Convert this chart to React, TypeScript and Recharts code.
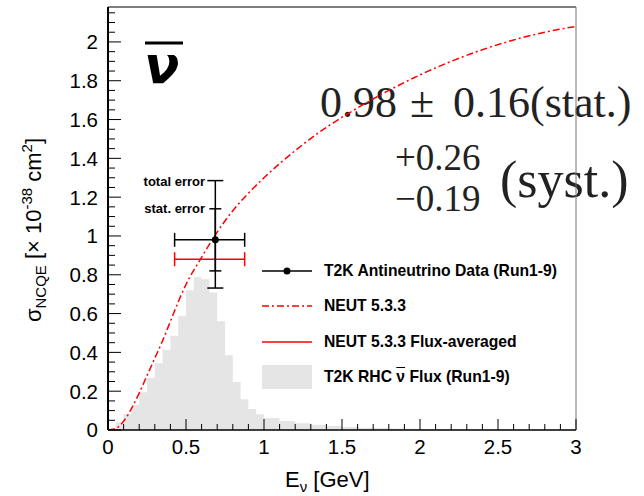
import React from 'react';
import { ComposedChart, Area, Line, Scatter, ErrorBar, XAxis, YAxis, Legend } from 'recharts';

// ---------- data ----------
const FLUX_BIN_EDGES = [
  0, 0.05, 0.1, 0.15, 0.2, 0.25, 0.3, 0.35, 0.4, 0.45, 0.5, 0.55, 0.6, 0.65, 0.7, 0.75, 0.8, 0.85, 0.9, 0.95,
  1.0, 1.1, 1.2, 1.3, 1.4, 1.5, 1.6, 1.7, 1.8, 1.9, 2.0, 2.2, 2.4, 2.6, 2.8, 3.0,
];
const FLUX_VALUES = [
  0.008, 0.04, 0.082, 0.129, 0.194, 0.268, 0.344, 0.414, 0.486, 0.588, 0.72, 0.787, 0.777, 0.708, 0.56, 0.385,
  0.247, 0.158, 0.108, 0.081, 0.062, 0.046, 0.035, 0.027, 0.021, 0.016, 0.012, 0.01, 0.008, 0.006, 0.005, 0.004,
  0.003, 0.002, 0.002,
];

const NEUT_ENERGY = [
  0, 0.05, 0.1, 0.15, 0.2, 0.25, 0.3, 0.35, 0.4, 0.45, 0.5, 0.6, 0.7, 0.8, 0.9, 1.0, 1.2, 1.4, 1.6, 1.8, 2.0, 2.2,
  2.4, 2.6, 2.8, 3.0,
];
const NEUT_XSEC = [
  0, 0.008, 0.045, 0.11, 0.19, 0.28, 0.37, 0.46, 0.56, 0.66, 0.75, 0.89, 1.02, 1.13, 1.22, 1.3, 1.44, 1.56, 1.66,
  1.75, 1.83, 1.9, 1.96, 2.01, 2.05, 2.08,
];

const DATA_ENERGY = 0.688;
const DATA_XSEC = 0.98;
const DATA_STAT = 0.16;
const DATA_SYST_UP = 0.26;
const DATA_SYST_DOWN = 0.19;
const FLUX_E_LOW = 0.427;
const FLUX_E_HIGH = 0.876;
const NEUT_FLUX_AVG = 0.88;
const NEUT_FLUX_AVG_E = 0.6515;

const X_MAJOR_TICKS = [0, 0.5, 1, 1.5, 2, 2.5, 3];
const X_TICK_LABELS = ['0', '0.5', '1', '1.5', '2', '2.5', '3'];
const Y_MAJOR_TICKS = [0, 0.2, 0.4, 0.6, 0.8, 1, 1.2, 1.4, 1.6, 1.8, 2];
const Y_TICK_LABELS = ['0', '0.2', '0.4', '0.6', '0.8', '1', '1.2', '1.4', '1.6', '1.8', '2'];

const LEGEND_LABELS = [
  'T2K Antineutrino Data (Run1-9)',
  'NEUT 5.3.3',
  'NEUT 5.3.3 Flux-averaged',
  'T2K RHC ν Flux (Run1-9)',
];

// ---------- derived ----------
const fluxData = FLUX_BIN_EDGES.map((x, i) => ({ x, flux: FLUX_VALUES[Math.min(i, FLUX_VALUES.length - 1)] }));
const neutData = NEUT_ENERGY.map((x, i) => ({ x, xsec: NEUT_XSEC[i] }));
const totDown = Math.sqrt(DATA_STAT * DATA_STAT + DATA_SYST_DOWN * DATA_SYST_DOWN);
const totUp = Math.sqrt(DATA_STAT * DATA_STAT + DATA_SYST_UP * DATA_SYST_UP);
const pointData = [
  {
    x: DATA_ENERGY,
    y: DATA_XSEC,
    stat: DATA_STAT,
    tot: [totDown, totUp],
    ex: [DATA_ENERGY - FLUX_E_LOW, FLUX_E_HIGH - DATA_ENERGY],
  },
];
const avgData = [
  { x: NEUT_FLUX_AVG_E, y: NEUT_FLUX_AVG, ex: [NEUT_FLUX_AVG_E - FLUX_E_LOW, FLUX_E_HIGH - NEUT_FLUX_AVG_E] },
];

// tick positions (minor + major)
const xTickList: number[] = [];
for (let i = 0; i <= 30; i++) xTickList.push(i / 10);
const yTickList: number[] = [];
for (let i = 0; i <= 43; i++) yTickList.push(i / 20);

const SANS = "'Liberation Sans', Arial, Helvetica, sans-serif";
const SERIF = "'Liberation Serif', 'Times New Roman', serif";

const near = (a: number, b: number) => Math.abs(a - b) < 1e-6;

const XTick = (props: any) => {
  const { x, y, payload } = props;
  const idx = X_MAJOR_TICKS.findIndex((m) => near(m, payload.value));
  const major = idx >= 0;
  return (
    <g>
      <line x1={x} x2={x} y1={y} y2={y - (major ? 11 : 6)} stroke="#000" strokeWidth={1} />
      {major && (
        <text x={x} y={y + 24} textAnchor="middle" fontFamily={SANS} fontSize={20.5} fill="#000">
          {X_TICK_LABELS[idx]}
        </text>
      )}
    </g>
  );
};

const YTick = (props: any) => {
  const { x, y, payload } = props;
  const idx = Y_MAJOR_TICKS.findIndex((m) => near(m, payload.value));
  const major = idx >= 0;
  return (
    <g>
      <line x1={x} x2={x + (major ? 13 : 7)} y1={y} y2={y} stroke="#000" strokeWidth={1} />
      {major && (
        <text x={x - 10} y={y} dy="0.36em" textAnchor="end" fontFamily={SANS} fontSize={20.5} fill="#000">
          {Y_TICK_LABELS[idx]}
        </text>
      )}
    </g>
  );
};

const renderLegend = () => {
  const symbols = [
    <g>
      <line x1={0} x2={50} y1={12} y2={12} stroke="#000" strokeWidth={1.5} />
      <circle cx={25} cy={12} r={3.5} fill="#000" />
    </g>,
    <line x1={0} x2={50} y1={12} y2={12} stroke="#f00" strokeWidth={1.5} strokeDasharray="7 3 2 3" />,
    <line x1={0} x2={50} y1={12} y2={12} stroke="#f00" strokeWidth={1.5} />,
    <rect x={0} y={0} width={50} height={24} fill="#e5e5e5" />,
  ];
  return (
    <div style={{ width: 340 }}>
      {LEGEND_LABELS.map((lab, i) => (
        <div key={i} style={{ display: 'flex', alignItems: 'center', height: 35.5 }}>
          <svg width={51} height={24} style={{ flex: 'none' }}>
            {symbols[i]}
          </svg>
          <span
            style={{
              marginLeft: 11,
              fontFamily: SANS,
              fontWeight: 'bold',
              fontSize: 15.7,
              color: '#000',
              whiteSpace: 'nowrap',
            }}
          >
            {i === 3 ? (
              <>
                {lab.split('ν')[0]}
                <span style={{ textDecoration: 'overline' }}>ν</span>
                {lab.split('ν')[1]}
              </>
            ) : (
              lab
            )}
          </span>
        </div>
      ))}
    </div>
  );
};

const DataDot = (p: any) => <circle cx={p.cx} cy={p.cy} r={3.5} fill="#000" />;
const NoDot = () => <g />;

export default function App() {
  return (
    <div style={{ position: 'absolute', left: 0, top: 0, width: 644, height: 496, background: '#fff', overflow: 'hidden' }}>
      {/* annotations (below the chart layer) */}
      <svg width={644} height={496} style={{ position: 'absolute', left: 0, top: 0 }}>
        <text
          x={144}
          y={83}
          fontFamily="'DejaVu Sans', sans-serif"
          fontWeight="bold"
          fontStyle="italic"
          fontSize={52}
          fill="#000"
        >
          ν
        </text>
        <line x1={145} x2={183} y1={43} y2={43} stroke="#000" strokeWidth={3} />
        <text x={205} y={186} textAnchor="end" fontFamily={SANS} fontWeight="bold" fontSize={13} fill="#000">
          total error
        </text>
        <text x={205} y={212.7} textAnchor="end" fontFamily={SANS} fontWeight="bold" fontSize={13} fill="#000">
          stat. error
        </text>
        <text x={320} y={117} fontFamily={SERIF} fontSize={44} fill="#222">
          <tspan>0.98</tspan>
          <tspan x={410}>±</tspan>
          <tspan x={453}>0.16(stat.)</tspan>
        </text>
        <text x={395} y={170} fontFamily={SERIF} fontSize={37} fill="#222">
          +0.26
        </text>
        <text x={395} y={211} fontFamily={SERIF} fontSize={37} fill="#222">
          −0.19
        </text>
        <text x={500} y={197} fontFamily={SERIF} fontSize={52} fill="#222">
          (syst.)
        </text>
        <text x={285} y={487} fontFamily={SANS} fontSize={22} fill="#000">
          E<tspan fontSize={15} dy={5}>ν</tspan>
          <tspan dy={-5}> [GeV]</tspan>
        </text>
        <text transform="translate(41,230) rotate(-90)" textAnchor="middle" fontFamily={SANS} fontSize={22} fill="#000">
          σ<tspan fontSize={15} dy={5}>NCQE</tspan>
          <tspan dy={-5}> [× 10</tspan>
          <tspan fontSize={15} dy={-9}>-38</tspan>
          <tspan dy={9}> cm</tspan>
          <tspan fontSize={15} dy={-9}>2</tspan>
          <tspan dy={9}>]</tspan>
        </text>
      </svg>
      <div style={{ position: 'absolute', left: 0, top: 0 }}>
        <ComposedChart width={644} height={496} margin={{ top: 6, right: 67, bottom: 36, left: 68 }}>
          <Area
            data={fluxData}
            dataKey="flux"
            type="stepAfter"
            fill="#e5e5e5"
            fillOpacity={1}
            stroke="none"
            isAnimationActive={false}
            legendType="none"
          />
          <Line
            data={neutData}
            dataKey="xsec"
            type="monotone"
            stroke="#ff0000"
            strokeWidth={1.5}
            strokeDasharray="7 3 2 3"
            dot={false}
            isAnimationActive={false}
            legendType="none"
          />
          <Scatter data={avgData} dataKey="y" shape={NoDot} isAnimationActive={false} legendType="none">
            <ErrorBar dataKey="ex" direction="x" width={7} stroke="#ff0000" strokeWidth={1.5} />
          </Scatter>
          <Scatter data={pointData} dataKey="y" shape={DataDot} isAnimationActive={false} legendType="none">
            <ErrorBar dataKey="ex" direction="x" width={7} stroke="#000" strokeWidth={1.5} />
            <ErrorBar dataKey="tot" direction="y" width={8} stroke="#000" strokeWidth={1.5} />
            <ErrorBar dataKey="stat" direction="y" width={6} stroke="#000" strokeWidth={1.5} />
          </Scatter>
          <XAxis
            dataKey="x"
            type="number"
            domain={[0, 3]}
            allowDataOverflow
            ticks={xTickList}
            interval={0}
            tick={<XTick />}
            tickLine={false}
            tickSize={0}
            tickMargin={0}
            height={30}
            axisLine={{ stroke: '#000', strokeWidth: 1.5 }}
          />
          <XAxis
            xAxisId="top"
            orientation="top"
            type="number"
            domain={[0, 3]}
            tick={false}
            tickLine={false}
            height={1}
            axisLine={{ stroke: '#000', strokeWidth: 1 }}
          />
          <YAxis
            type="number"
            domain={[0, 2.18]}
            allowDataOverflow
            ticks={yTickList}
            interval={0}
            tick={<YTick />}
            tickLine={false}
            tickSize={0}
            tickMargin={0}
            width={40}
            axisLine={{ stroke: '#000', strokeWidth: 2 }}
          />
          <YAxis
            yAxisId="right"
            orientation="right"
            type="number"
            domain={[0, 2.18]}
            tick={false}
            tickLine={false}
            width={1}
            axisLine={{ stroke: '#777', strokeWidth: 1 }}
          />
          <Legend
            layout="vertical"
            align="center"
            verticalAlign="middle"
            content={renderLegend}
            wrapperStyle={{ position: 'absolute', left: 262, top: 253, width: 340 }}
          />
        </ComposedChart>
      </div>
    </div>
  );
}
